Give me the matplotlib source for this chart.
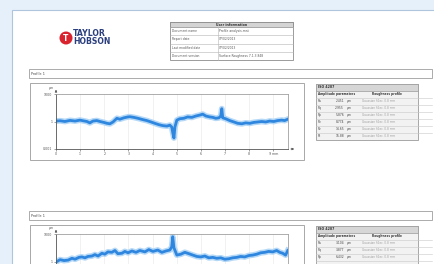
import matplotlib
matplotlib.use("Agg")
import matplotlib.pyplot as plt
from matplotlib.patches import Rectangle, Circle

W, H = 435, 264

# ---- data (x in mm, y as log10 of height in um) ----
PROFILE1_X = [0.00, 0.17, 0.37, 0.58, 0.79, 0.99, 1.12, 1.28, 1.40, 1.53,
              1.69, 1.82, 1.98, 2.11, 2.23, 2.36, 2.52, 2.64, 2.81, 2.98,
              3.06, 3.22, 3.39, 3.60, 3.76, 3.93, 4.09, 4.26, 4.42, 4.59,
              4.71, 4.79, 4.83, 4.88, 4.92, 5.00, 5.12, 5.29, 5.45, 5.62,
              5.79, 5.95, 6.07, 6.20, 6.36, 6.49, 6.61, 6.74, 6.82, 6.86,
              6.90, 7.02, 7.19, 7.36, 7.52, 7.69, 7.85, 8.02, 8.18, 8.35,
              8.51, 8.68, 8.84, 9.01, 9.17, 9.34, 9.46, 9.59]
PROFILE1_LOG = [0.05, 0.08, 0.00, 0.12, 0.05, 0.15, 0.08, 0.00, -0.15, 0.05,
                0.10, 0.00, -0.10, -0.20, -0.25, -0.05, 0.35, 0.25, 0.40, 0.50,
                0.52, 0.45, 0.35, 0.20, 0.10, -0.05, -0.20, -0.35, -0.45, -0.50,
                -0.40, -0.60, -1.20, -1.80, -0.60, 0.15, 0.30, 0.35, 0.50, 0.45,
                0.60, 0.70, 0.80, 0.60, 0.50, 0.45, 0.35, 0.40, 0.60, 1.40,
                0.40, 0.30, 0.10, -0.05, -0.20, -0.25, -0.15, -0.20, -0.10, -0.05,
                0.00, -0.05, 0.05, 0.00, 0.10, 0.15, 0.10, 0.25]

PROFILE2_X = [0.04, 0.17, 0.33, 0.50, 0.66, 0.79, 0.95, 1.07, 1.20, 1.32,
              1.49, 1.61, 1.74, 1.90, 2.02, 2.15, 2.31, 2.44, 2.56, 2.73,
              2.85, 2.98, 3.14, 3.31, 3.47, 3.68, 3.84, 4.01, 4.21, 4.38,
              4.55, 4.71, 4.79, 4.83, 4.88, 5.00, 5.17, 5.33, 5.50, 5.66,
              5.83, 5.99, 6.16, 6.32, 6.49, 6.65, 6.82, 6.98, 7.15, 7.31,
              7.48, 7.64, 7.81, 7.98, 8.14, 8.31, 8.47, 8.64, 8.80, 8.97,
              9.13, 9.26, 9.38, 9.50, 9.59]
PROFILE2_LOG = [0.00, 0.20, 0.10, 0.15, 0.35, 0.25, 0.45, 0.50, 0.40, 0.55,
                0.60, 0.75, 0.60, 0.90, 0.80, 1.05, 1.00, 1.20, 0.85, 0.90,
                1.10, 0.95, 1.15, 1.00, 1.20, 1.05, 1.30, 1.10, 1.25, 1.00,
                1.15, 1.25, 1.60, 2.70, 1.50, 0.70, 0.80, 1.00, 0.85, 0.70,
                0.55, 0.50, 0.60, 0.40, 0.45, 0.35, 0.40, 0.25, 0.30, 0.40,
                0.45, 0.55, 0.50, 0.65, 0.70, 0.80, 0.95, 1.00, 1.10, 1.05,
                1.20, 1.00, 0.90, 0.70, 1.20]

X_TICKS = [0, 1, 2, 3, 4, 5, 6, 7, 8, 9]
X_TICK_LABELS = ["0", "1", "2", "3", "4", "5", "6", "7", "8", "9 mm"]
Y_TICKS = [1e-3, 1, 1e3]
Y_TICK_LABELS = ["0.001", "1", "1000"]

INFO_TITLE = "User information"
INFO_ROWS = [("Document name", "Profile analysis.mnt"),
             ("Report date", "07/02/2013"),
             ("Last modified date", "07/02/2013"),
             ("Document version", "Surface Roughness 7.1.3.848")]

ISO_TITLE = "ISO 4287"
ISO_HEAD = ("Amplitude parameters", "Roughness profile")
PARAM_NAMES = ["Ra", "Rq", "Rp", "Rv", "Rz", "Rt"]
PARAM_VALUES_1 = ["2.451", "2.955", "5.876", "8.774", "14.65", "16.88"]
PARAM_VALUES_2 = ["3.104", "3.877", "6.432", "9.116", "15.55", "18.21"]

BLUE = "#2E86DE"
HALO = "#A3CFF5"
PAGE_BG = "#E6F0FA"


def px_axes(fig, x0, y0, x1, y1):
    return fig.add_axes([x0 / W, 1 - y1 / H, (x1 - x0) / W, (y1 - y0) / H])


fig = plt.figure(figsize=(W / 100, H / 100), dpi=100)
fig.patch.set_facecolor(PAGE_BG)

ov = fig.add_axes([0, 0, 1, 1])
ov.set_xlim(0, W)
ov.set_ylim(H, 0)
ov.axis("off")

# white page
ov.add_patch(Rectangle((12, 10), 430, 260, facecolor="white",
                       edgecolor="#AEC5DD", linewidth=0.8))

# logo
ov.add_patch(Circle((66, 38), 6.5, facecolor="#D9232E", edgecolor="none"))
ov.text(66, 38.5, "T", color="white", fontsize=5.5, fontweight="bold",
        ha="center", va="center")
ov.text(73, 33.5, "TAYLOR", color="#2B3F7E", fontsize=5.6, fontweight="bold",
        va="center")
ov.text(73, 42, "HOBSON", color="#2B3F7E", fontsize=5.6, fontweight="bold",
        va="center")

# user information table
tx0, tx1, ty0 = 170, 293, 22
ov.add_patch(Rectangle((tx0, ty0), tx1 - tx0, 38, facecolor="white",
                       edgecolor="#8C8C8C", linewidth=0.6))
ov.add_patch(Rectangle((tx0, ty0), tx1 - tx0, 5, facecolor="#D4D4D4",
                       edgecolor="#8C8C8C", linewidth=0.6))
ov.text((tx0 + tx1) / 2, ty0 + 2.6, INFO_TITLE, fontsize=2.3,
        fontweight="bold", ha="center", va="center", color="#333333")
for i, (k, v) in enumerate(INFO_ROWS):
    yy = ty0 + 5 + i * 8.25
    ov.plot([tx0, tx1], [yy, yy], color="#B5B5B5", lw=0.4)
    ov.text(tx0 + 2, yy + 4.2, k, fontsize=2.2, va="center", color="#555555")
    ov.text(219, yy + 4.2, v, fontsize=2.2, va="center", color="#555555")
ov.plot([218, 218], [ty0 + 5, ty0 + 38], color="#B5B5B5", lw=0.4)


def section(top, vals, profile_x, profile_log, ax_off):
    # "Profile 1" title bar
    ov.add_patch(Rectangle((29, top), 403, 9, facecolor="white",
                           edgecolor="#9E9E9E", linewidth=0.6))
    ov.text(31, top + 4.6, "Profile 1", fontsize=2.4, va="center",
            color="#444444")
    # chart frame
    ov.add_patch(Rectangle((30, top + 14), 274, 77, facecolor="white",
                           edgecolor="#A8A8A8", linewidth=0.7))
    ax_top = top + ax_off
    ax_bot = ax_top + 55
    ov.text(51, ax_top - 6, "\u00b5m", fontsize=2.3, ha="center",
            va="center", color="#555555")

    ax = px_axes(fig, 56, ax_top, 288, ax_bot)
    ax.set_facecolor("none")
    ys = [10 ** v for v in profile_log]
    ax.plot(profile_x, ys, color=HALO, lw=4.2, alpha=0.8,
            solid_joinstyle="round")
    ax.plot(profile_x, ys, color=BLUE, lw=2.0, solid_joinstyle="round")
    ax.set_yscale("log")
    ax.set_ylim(1e-3, 1e3)
    ax.set_xlim(0, 9.6)
    ax.set_xticks(X_TICKS)
    if ax_bot + 6 < H:
        ax.set_xticklabels(X_TICK_LABELS)
        ax.set_yticks(Y_TICKS)
        ax.set_yticklabels(Y_TICK_LABELS)
    else:
        # lower part of this chart is below the page crop
        ax.set_xticklabels([])
        ax.set_yticks(Y_TICKS[1:])
        ax.set_yticklabels(Y_TICK_LABELS[1:])
    ax.yaxis.set_minor_locator(matplotlib.ticker.NullLocator())
    ax.tick_params(labelsize=2.3, length=1.5, width=0.4, pad=1,
                   colors="#555555")
    ax.grid(True, axis="x", color="#E6E6E6", lw=0.4)
    for s in ax.spines.values():
        s.set_color("#A0A0A0")
        s.set_linewidth(0.6)
    ax.spines["left"].set_color("#555555")
    ax.spines["bottom"].set_color("#555555")

    # axis arrows
    ov.annotate("", xy=(297, ax_bot), xytext=(288, ax_bot),
                arrowprops=dict(arrowstyle="-|>", color="#555555", lw=0.5,
                                mutation_scale=3))
    ov.annotate("", xy=(56, ax_top - 7), xytext=(56, ax_top),
                arrowprops=dict(arrowstyle="-|>", color="#555555", lw=0.5,
                                mutation_scale=3))

    # parameter table
    px0, px1, py0 = 316, 418, top + 15
    ov.add_patch(Rectangle((px0, py0), px1 - px0, 56, facecolor="#F2F2F2",
                           edgecolor="#9A9A9A", linewidth=0.6))
    ov.add_patch(Rectangle((px0, py0), px1 - px0, 6.5, facecolor="#D6D6D6",
                           edgecolor="#9A9A9A", linewidth=0.5))
    ov.text(px0 + 2, py0 + 3.3, ISO_TITLE, fontsize=2.3, fontweight="bold",
            va="center", color="#333333")
    ov.text(px0 + 2, py0 + 10, ISO_HEAD[0], fontsize=2.1, fontweight="bold",
            va="center", color="#333333")
    ov.text(px0 + 56, py0 + 10, ISO_HEAD[1], fontsize=2.1,
            fontweight="bold", va="center", color="#333333")
    for i, (name, val) in enumerate(zip(PARAM_NAMES, vals)):
        yy = py0 + 13.5 + i * 7
        ov.plot([px0, px1 + 14], [yy, yy], color="#C8C8C8", lw=0.4)
        if yy + 5 > H:
            continue  # row falls off the bottom of the page crop
        ov.text(px0 + 2, yy + 3.5, name, fontsize=2.2, va="center",
                color="#444444")
        ov.text(px0 + 28, yy + 3.5, val, fontsize=2.2, va="center",
                ha="right", color="#444444")
        ov.text(px0 + 31, yy + 3.5, "\u00b5m", fontsize=2.2, va="center",
                color="#444444")
        ov.text(px0 + 46, yy + 3.5, "Gaussian filter, 0.8 mm", fontsize=2.1,
                va="center", color="#A0A0A0")
    return ax


section(69, PARAM_VALUES_1, PROFILE1_X, PROFILE1_LOG, 25)
section(211, PARAM_VALUES_2, PROFILE2_X, PROFILE2_LOG, 23)

fig.savefig("out.png", dpi=100, facecolor=PAGE_BG)
